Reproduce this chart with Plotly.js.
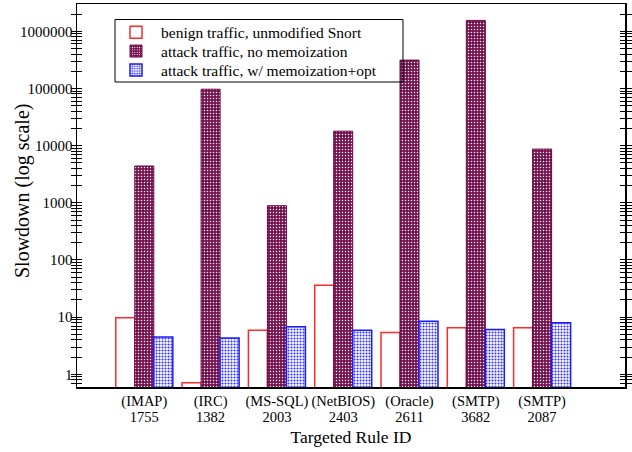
<!DOCTYPE html>
<html>
<head>
<meta charset="utf-8">
<script src="https://cdn.plot.ly/plotly-3.0.1.min.js"></script>
<style>html,body{margin:0;padding:0;background:#fff}#chart{width:632px;height:452px}</style>
</head>
<body>
<div id="chart"></div>
<script>
const protocols = ["(IMAP)", "(IRC)", "(MS-SQL)", "(NetBIOS)", "(Oracle)", "(SMTP)", "(SMTP)"];
const ruleIds = ["1755", "1382", "2003", "2403", "2611", "3682", "2087"];
const positions = [1, 2, 3, 4, 5, 6, 7];
const benign = [9.8, 0.71, 5.9, 36, 5.4, 6.5, 6.5];
const attackNoMemo = [4400, 97000, 890, 17900, 313000, 1550000, 8700];
const attackMemo = [4.5, 4.3, 6.8, 5.9, 8.5, 6.1, 8.0];
const seriesNames = ["benign traffic, unmodified Snort", "attack traffic, no memoization", "attack traffic, w/ memoization+opt"];
const yTickVals = [1, 10, 100, 1000, 10000, 100000, 1000000];
const yTickText = ["1", "10", "100", "1000", "10000", "100000", "1000000"];
const minorMultipliers = [2, 3, 4, 5, 6, 7, 8, 9];
const decades = [0.1, 1, 10, 100, 1000, 10000, 100000, 1000000];

const allTickVals = yTickVals.slice();
const allTickText = yTickText.slice();
decades.forEach(d => minorMultipliers.forEach(m => { allTickVals.push(d * m); allTickText.push(''); }));

const serif = "Liberation Serif, Times New Roman, serif";
const xRange = [-0.015, 8.25];
const yRange = [Math.log10(0.6), Math.log10(3000000)];
const traces = [
  {type: 'bar', name: seriesNames[0], x: positions, y: benign, legend: 'legend',
   marker: {color: '#ffffff', line: {color: '#ff2a2a', width: 1.5}}},
  {type: 'bar', name: seriesNames[1], x: positions, y: attackNoMemo, legend: 'legend2',
   marker: {color: '#76104f', line: {color: '#6a0a45', width: 1},
     pattern: {shape: '.', fgcolor: '#ffffff', bgcolor: '#76104f', size: 3, solidity: 0.2}}},
  {type: 'bar', name: seriesNames[2], x: positions, y: attackMemo, legend: 'legend3',
   marker: {color: '#ffffff', line: {color: '#1a1aff', width: 1.5},
     pattern: {shape: '.', fgcolor: '#3030ff', bgcolor: '#ffffff', size: 3, solidity: 0.4}}},
  {type: 'scatter', mode: 'markers', x: positions, y: benign, xaxis: 'x2', yaxis: 'y',
   marker: {opacity: 0, size: 1}, showlegend: false, hoverinfo: 'skip'}
];
function leg(yc) {
  return {x: (111 - 77) / 548, y: yc, xanchor: 'left', yanchor: 'middle',
    borderwidth: 0, bgcolor: 'rgba(0,0,0,0)', itemwidth: 40,
    font: {family: serif, size: 15.5, color: '#000'}};
}
const layout = {
  width: 632, height: 452,
  margin: {l: 77, r: 7, t: 4, b: 65},
  paper_bgcolor: '#fff', plot_bgcolor: '#fff',
  barmode: 'group', bargap: 0.14, bargroupgap: 0,
  font: {family: serif, size: 14.5, color: '#000'},
  showlegend: true,
  legend: leg((387 - 32.7) / 383),
  legend2: leg((387 - 51.5) / 383),
  legend3: leg((387 - 70.3) / 383),
  shapes: [{type: 'rect', xref: 'paper', yref: 'paper',
    x0: (115 - 77) / 548, x1: (403 - 77) / 548, y0: (387 - 82) / 383, y1: (387 - 19.5) / 383,
    line: {color: '#000', width: 1}, fillcolor: 'rgba(0,0,0,0)', layer: 'above'}],
  annotations: [{text: 'Slowdown (log scale)', xref: 'paper', yref: 'paper',
    x: (22 - 77) / 548, y: (387 - 191) / 383, xanchor: 'center', yanchor: 'middle',
    textangle: -90, showarrow: false, font: {family: serif, size: 20, color: '#000'}}],
  xaxis: {range: xRange, tickvals: positions, ticktext: protocols,
    ticks: '', showgrid: false, zeroline: false, showline: true, linecolor: '#000', linewidth: 1.5, mirror: true,
    tickfont: {family: serif, size: 14.5},
    title: {text: 'Targeted Rule ID', font: {family: serif, size: 17.5}, standoff: 22}},
  xaxis2: {range: xRange, overlaying: 'x', anchor: 'y', side: 'bottom', tickvals: positions, ticktext: ruleIds,
    ticks: '', showgrid: false, zeroline: false, showline: false,
    tickfont: {family: serif, size: 14.5}, ticklabelstandoff: 19},
  yaxis: {type: 'log', range: yRange, tickmode: 'array', tickvals: allTickVals, ticktext: allTickText,
    ticks: 'inside', ticklen: 5, tickwidth: 1, tickcolor: '#000',
    showgrid: false, zeroline: false, showline: true, linecolor: '#000', linewidth: 1.5, mirror: 'allticks',
    tickfont: {family: serif, size: 15}}
};
Plotly.newPlot('chart', traces, layout, {displayModeBar: false, staticPlot: true});
</script>
</body>
</html>
